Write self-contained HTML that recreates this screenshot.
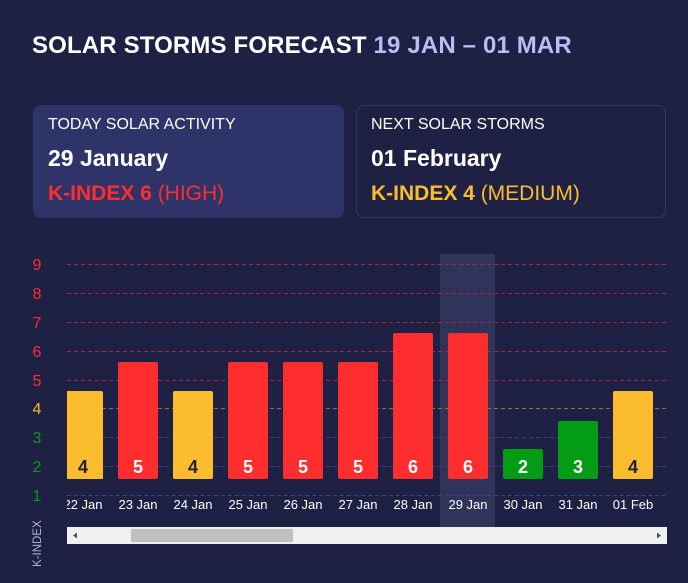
<!DOCTYPE html>
<html><head><meta charset="utf-8"><style>
body{margin:0;width:688px;height:583px;background:#1e2044;font-family:"Liberation Sans",sans-serif;overflow:hidden;position:relative}
.a{position:absolute;white-space:nowrap}
.card{position:absolute;top:105px;height:113px;border-radius:8px;box-sizing:border-box}
</style></head><body>
<div class="a" style="left:32px;top:32px;font-size:24px;font-weight:bold;color:#fff;letter-spacing:0.15px">SOLAR STORMS FORECAST <span style="color:#b8bdf5">19 JAN – 01 MAR</span></div>
<div class="card" style="left:33px;width:311px;background:#2e3469"></div>
<div class="card" style="left:356px;width:310px;border:1px solid #303873"></div>
<div class="a" style="left:48px;top:116px;font-size:16px;color:#fff">TODAY SOLAR ACTIVITY</div>
<div class="a" style="left:48px;top:145px;font-size:23px;font-weight:bold;color:#fff">29 January</div>
<div class="a" style="left:48px;top:182px;font-size:21px;color:#ff2e2e"><b>K-INDEX 6</b> (HIGH)</div>
<div class="a" style="left:371px;top:116px;font-size:16px;color:#fff">NEXT SOLAR STORMS</div>
<div class="a" style="left:371px;top:145px;font-size:23px;font-weight:bold;color:#fff">01 February</div>
<div class="a" style="left:371px;top:182px;font-size:21px;color:#fbbd2d"><b>K-INDEX 4</b> (MEDIUM)</div>
<svg class="a" style="left:0;top:0" width="688" height="583" font-family="Liberation Sans, sans-serif">
<g font-size="16" text-anchor="middle">
<text x="37" y="270" fill="#ff2e2e">9</text>
<text x="37" y="299" fill="#ff2e2e">8</text>
<text x="37" y="328" fill="#ff2e2e">7</text>
<text x="37" y="357" fill="#ff2e2e">6</text>
<text x="37" y="386" fill="#ff2e2e">5</text>
<text x="37" y="414" fill="#fbbd2d">4</text>
<text x="37" y="443" fill="#0a9a1a">3</text>
<text x="37" y="472" fill="#0a9a1a">2</text>
<text x="37" y="501" fill="#0a9a1a">1</text>
</g>
<text transform="translate(41,567) rotate(-90)" font-size="11.5" fill="#b0b4dc">K-INDEX</text>
<rect x="440" y="254" width="55" height="273" fill="#30345a"/>
<g stroke-dasharray="4,3" stroke-width="1">
<line x1="67" x2="667" y1="264.5" y2="264.5" stroke="#a8283c"/>
<line x1="67" x2="667" y1="293.5" y2="293.5" stroke="#a8283c"/>
<line x1="67" x2="667" y1="322.5" y2="322.5" stroke="#a8283c"/>
<line x1="67" x2="667" y1="351.5" y2="351.5" stroke="#a8283c"/>
<line x1="67" x2="667" y1="380.5" y2="380.5" stroke="#a8283c"/>
<line x1="67" x2="667" y1="408.5" y2="408.5" stroke="#8a7a30"/>
<line x1="67" x2="667" y1="437.5" y2="437.5" stroke="#3a4280"/>
<line x1="67" x2="667" y1="466.5" y2="466.5" stroke="#3a4280"/>
<line x1="67" x2="667" y1="495.5" y2="495.5" stroke="#3a4280"/>
</g>
<g>
<path d="M67 391H101a2 2 0 0 1 2 2V479H67Z" fill="#fbbd2d"/>
<rect x="118" y="362" width="40" height="117" rx="2" fill="#ff2e2e"/>
<rect x="173" y="391" width="40" height="88" rx="2" fill="#fbbd2d"/>
<rect x="228" y="362" width="40" height="117" rx="2" fill="#ff2e2e"/>
<rect x="283" y="362" width="40" height="117" rx="2" fill="#ff2e2e"/>
<rect x="338" y="362" width="40" height="117" rx="2" fill="#ff2e2e"/>
<rect x="393" y="333" width="40" height="146" rx="2" fill="#ff2e2e"/>
<rect x="448" y="333" width="40" height="146" rx="2" fill="#ff2e2e"/>
<rect x="503" y="449" width="40" height="30" rx="2" fill="#039c14"/>
<rect x="558" y="421" width="40" height="58" rx="2" fill="#039c14"/>
<rect x="613" y="391" width="40" height="88" rx="2" fill="#fbbd2d"/>
</g>
<g font-size="18" font-weight="bold" text-anchor="middle">
<text x="83" y="473" fill="#1e2044">4</text>
<text x="138" y="473" fill="#fff">5</text>
<text x="193" y="473" fill="#1e2044">4</text>
<text x="248" y="473" fill="#fff">5</text>
<text x="303" y="473" fill="#fff">5</text>
<text x="358" y="473" fill="#fff">5</text>
<text x="413" y="473" fill="#fff">6</text>
<text x="468" y="473" fill="#fff">6</text>
<text x="523" y="473" fill="#fff">2</text>
<text x="578" y="473" fill="#fff">3</text>
<text x="633" y="473" fill="#1e2044">4</text>
</g>
<svg x="67" y="490" width="600" height="25">
<g font-size="13" fill="#fff" text-anchor="middle">
<text x="16" y="19">22 Jan</text>
<text x="71" y="19">23 Jan</text>
<text x="126" y="19">24 Jan</text>
<text x="181" y="19">25 Jan</text>
<text x="236" y="19">26 Jan</text>
<text x="291" y="19">27 Jan</text>
<text x="346" y="19">28 Jan</text>
<text x="401" y="19">29 Jan</text>
<text x="456" y="19">30 Jan</text>
<text x="511" y="19">31 Jan</text>
<text x="566" y="19">01 Feb</text>
<text x="621" y="19">02 Feb</text>
</g>
</svg>
<rect x="67" y="527" width="600" height="17" fill="#f0f0f0"/>
<rect x="131" y="529" width="162" height="13" fill="#c0c0c0"/>
<path d="M73 535.5l4-3v6z" fill="#505050"/>
<path d="M661 535.5l-4-3v6z" fill="#505050"/>
</svg>
</body></html>
